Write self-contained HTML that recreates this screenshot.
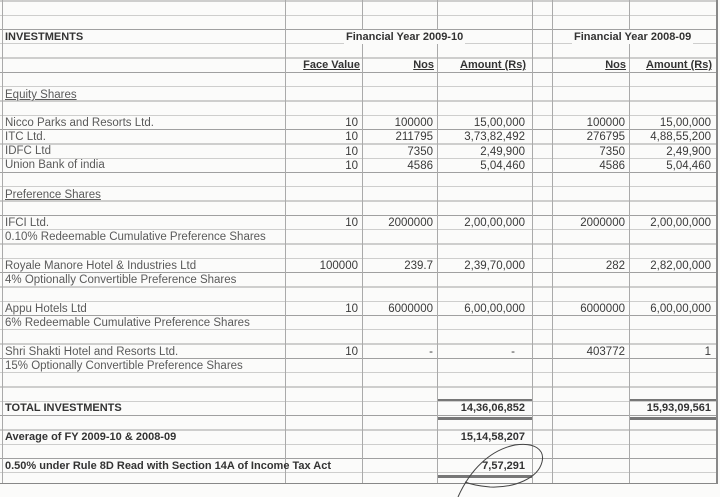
<!DOCTYPE html>
<html><head><meta charset="utf-8"><style>
*{margin:0;padding:0;box-sizing:border-box}
body{width:720px;height:497px;background:#fbfbfa;position:relative;overflow:hidden;font-family:"Liberation Sans",Arial,sans-serif;font-size:11.5px;color:#3a3a3a}
#grid{position:absolute;left:0;top:0;width:718px;height:484px;background:repeating-linear-gradient(to bottom,transparent 0 0.5px,#a0a0a0 0.5px 1.3px,transparent 1.3px 14.3px)}
.v{position:absolute;top:0;height:484px;width:1px;background:#aaa}
.t{position:absolute;white-space:nowrap;line-height:14px}
.l{left:5px;color:#5a5a5a}
.b{font-weight:bold;color:#333;font-size:11px}
.u{text-decoration:underline}
.r{text-align:right}
.dl{position:absolute;height:2px;background:#777}
.h{background:#fbfbfa;padding:0 2px}
</style></head><body>
<div id="grid"></div>
<div class="v" style="left:2px"></div>
<div class="v" style="left:285px"></div>
<div class="v" style="left:362px"></div>
<div class="v" style="left:437px"></div>
<div class="v" style="left:532px"></div>
<div class="v" style="left:552px"></div>
<div class="v" style="left:629px"></div>
<div class="v" style="left:716px;width:2px;background:#888"></div>
<div class="v" style="left:0;top:483px;height:1px;width:718px;background:#888"></div>

<div class="t b" style="left:5px;top:30px">INVESTMENTS</div>
<div class="t b h" style="left:344px;top:30px">Financial Year 2009-10</div>
<div class="t b h" style="left:572px;top:30px">Financial Year 2008-09</div>

<div class="t b u r" style="right:360px;top:58px">Face Value</div>
<div class="t b u r" style="right:286px;top:58px">Nos</div>
<div class="t b u r" style="right:194px;top:58px">Amount (Rs)</div>
<div class="t b u r" style="right:94px;top:58px">Nos</div>
<div class="t b u r" style="right:8px;top:58px">Amount (Rs)</div>

<div class="t l u" style="top:88px">Equity Shares</div>

<div class="t l" style="top:116px">Nicco Parks and Resorts Ltd.</div>
<div class="t l" style="top:130px">ITC Ltd.</div>
<div class="t l" style="top:144px">IDFC Ltd</div>
<div class="t l" style="top:158px">Union Bank of india</div>
<div class="t r" style="right:362px;top:116px;line-height:14.3px">10<br>10<br>10<br>10</div>
<div class="t r" style="right:287px;top:116px;line-height:14.3px">100000<br>211795<br>7350<br>4586</div>
<div class="t r" style="right:195px;top:116px;line-height:14.3px">15,00,000<br>3,73,82,492<br>2,49,900<br>5,04,460</div>
<div class="t r" style="right:95px;top:116px;line-height:14.3px">100000<br>276795<br>7350<br>4586</div>
<div class="t r" style="right:9px;top:116px;line-height:14.3px">15,00,000<br>4,88,55,200<br>2,49,900<br>5,04,460</div>

<div class="t l u" style="top:188px">Preference Shares</div>

<div class="t l" style="top:216px">IFCI Ltd.</div>
<div class="t l" style="top:230px">0.10% Redeemable Cumulative Preference Shares</div>
<div class="t r" style="right:362px;top:216px">10</div>
<div class="t r" style="right:287px;top:216px">2000000</div>
<div class="t r" style="right:195px;top:216px">2,00,00,000</div>
<div class="t r" style="right:95px;top:216px">2000000</div>
<div class="t r" style="right:9px;top:216px">2,00,00,000</div>

<div class="t l" style="top:259px">Royale Manore Hotel &amp; Industries Ltd</div>
<div class="t l" style="top:273px">4% Optionally Convertible Preference Shares</div>
<div class="t r" style="right:362px;top:259px">100000</div>
<div class="t r" style="right:287px;top:259px">239.7</div>
<div class="t r" style="right:195px;top:259px">2,39,70,000</div>
<div class="t r" style="right:95px;top:259px">282</div>
<div class="t r" style="right:9px;top:259px">2,82,00,000</div>

<div class="t l" style="top:302px">Appu Hotels Ltd</div>
<div class="t l" style="top:316px">6% Redeemable Cumulative Preference Shares</div>
<div class="t r" style="right:362px;top:302px">10</div>
<div class="t r" style="right:287px;top:302px">6000000</div>
<div class="t r" style="right:195px;top:302px">6,00,00,000</div>
<div class="t r" style="right:95px;top:302px">6000000</div>
<div class="t r" style="right:9px;top:302px">6,00,00,000</div>

<div class="t l" style="top:345px">Shri Shakti Hotel and Resorts Ltd.</div>
<div class="t l" style="top:359px">15% Optionally Convertible Preference Shares</div>
<div class="t r" style="right:362px;top:345px">10</div>
<div class="t r" style="right:287px;top:345px">-</div>
<div class="t r" style="right:205px;top:345px">-</div>
<div class="t r" style="right:95px;top:345px">403772</div>
<div class="t r" style="right:9px;top:345px">1</div>

<div class="dl" style="left:438px;width:94px;top:399px"></div>
<div class="dl" style="left:630px;width:86px;top:399px"></div>
<div class="t b" style="left:5px;top:401px">TOTAL INVESTMENTS</div>
<div class="t b r" style="right:195px;top:401px">14,36,06,852</div>
<div class="t b r" style="right:9px;top:401px">15,93,09,561</div>
<div class="dl" style="left:438px;width:94px;top:417px;height:3px"></div>
<div class="dl" style="left:630px;width:86px;top:417px;height:3px"></div>

<div class="t b" style="left:5px;top:430px">Average of FY 2009-10 &amp; 2008-09</div>
<div class="t b r" style="right:195px;top:430px">15,14,58,207</div>

<div class="t b" style="left:5px;top:459px">0.50% under Rule 8D Read with Section 14A of Income Tax Act</div>
<div class="t b r" style="right:195px;top:459px">7,57,291</div>
<div class="dl" style="left:438px;width:94px;top:475px;height:3px"></div>

<svg style="position:absolute;left:0;top:0" width="720" height="497">
<path d="M458 497 C470 470 490 450 515 445 C535 442 545 450 542 462 C538 478 515 488 490 487 C478 486 470 484 465 482" fill="none" stroke="#444" stroke-width="1"/>
</svg>
</body></html>
